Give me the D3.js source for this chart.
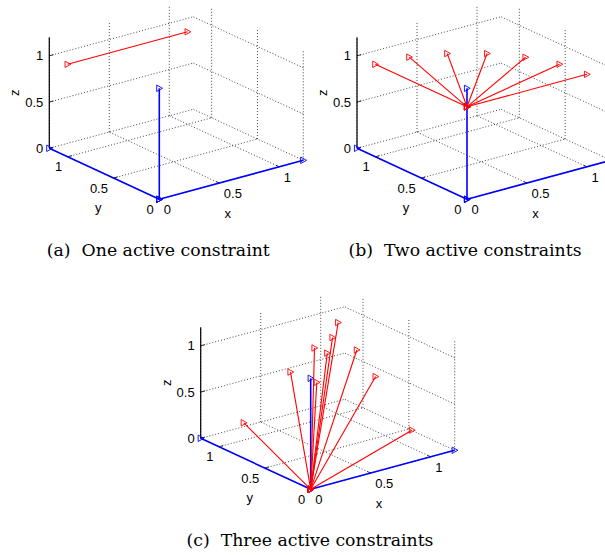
<!DOCTYPE html>
<html>
<head>
<meta charset="utf-8">
<script src="https://cdn.jsdelivr.net/npm/d3@7"></script>
<style>
  body { margin: 0; background: #fff; }
  svg { display: block; }
</style>
</head>
<body>
<div id="figure"></div>
<script>

// axis limits and ticks (same for x, y, z)
const axisLimit = 1.2;
const tickValues = [0, 0.5, 1];
const tickLabels = ["0", "0.5", "1"];
const axisNames = ["x", "y", "z"];

// blue basis arrows, drawn from the origin
const basisEnds = [[1.2, 0, 0], [0, 1.2, 0], [0, 0, 1.2]];

// (a) one red vector
const panelAStart = [0, 1, 1];
const panelAEnd = [1, 1, 1];

// (b) red fan, all starting at the same point
const panelBStart = [0, 0, 1];
const panelBEndX = [0, 0.26, 0.5, 0.71, 0.87, 0.97, 1];
const panelBEndY = [1, 0.97, 0.87, 0.71, 0.5, 0.26, 0];
const panelBEndZ = [1, 1, 1, 1, 1, 1, 1];

// (c) red vectors from the origin
const panelCStart = [0, 0, 0];
const panelCEndX = [0.13, 0.29, 0.49, 0.28, 0.52, 0.64, 0.84, 0.69, 0.77, 0.92];
const panelCEndY = [0.9, 0.6, 0.6, 0.3, 0.5, 0.6, 0.8, 0.4, 0.3, 0.1];
const panelCEndZ = [0.26, 0.89, 1.08, 0.92, 1.06, 1.14, 1.14, 1.08, 0.81, 0.27];

const captions = [
  "(a)\u00a0\u00a0One active constraint",
  "(b)\u00a0\u00a0Two active constraints",
  "(c)\u00a0\u00a0Three active constraints"
];

const colors = {
  red: "#ff0000",
  blue: "#0000ff",
  grid: "#333333",
  axis: "#000000",
  text: "#000000"
};

const width = 605;
const height = 555;

const svg = d3.select("#figure")
  .append("svg")
    .attr("width", width)
    .attr("height", height);

// projection of each data axis onto the screen (view az/el like matlab)
const xScale = d3.scaleLinear().domain([0, axisLimit]).range([[0, 0], [144, -39]]);
const yScale = d3.scaleLinear().domain([0, axisLimit]).range([[0, 0], [-110, -51]]);
const zScale = d3.scaleLinear().domain([0, axisLimit]).range([[0, 0], [0, -111]]);

function makeProject(origin) {
  return p => {
    const a = xScale(p[0]), b = yScale(p[1]), c = zScale(p[2]);
    return [origin[0] + a[0] + b[0] + c[0], origin[1] + a[1] + b[1] + c[1]];
  };
}

const markerPath = "M-2.6,-3.2L3.2,0L-2.6,3.2Z";

function drawPanel(origin, segments, caption, captionPos) {
  const project = makeProject(origin);
  const g = svg.append("g");
  const L = axisLimit;

  // grid lines on the floor and the two back walls
  const grid = [];
  tickValues.forEach(t => {
    grid.push([[t, 0, 0], [t, L, 0]]);
    grid.push([[0, t, 0], [L, t, 0]]);
    grid.push([[0, L, t], [L, L, t]]);
    grid.push([[L, 0, t], [L, L, t]]);
    grid.push([[t, L, 0], [t, L, L]]);
    grid.push([[L, t, 0], [L, t, L]]);
  });

  const line = d3.line().x(d => project(d)[0]).y(d => project(d)[1]);

  g.append("g")
    .selectAll("path")
    .data(grid)
    .join("path")
      .attr("d", line)
      .attr("fill", "none")
      .attr("stroke", colors.grid)
      .attr("stroke-width", 0.9)
      .attr("stroke-dasharray", "1,2");

  // z axis line with ticks
  g.append("path")
    .attr("d", line([[0, L, 0], [0, L, L]]))
    .attr("stroke", colors.axis)
    .attr("stroke-width", 1.2)
    .attr("fill", "none");

  const ticks = [];
  tickValues.forEach(t => {
    ticks.push([[0, L, t], [0.035, L, t]]);
    ticks.push([[t, 0, 0], [t, 0.035, 0]]);
    ticks.push([[0, t, 0], [0.035, t, 0]]);
  });
  g.append("g")
    .selectAll("path")
    .data(ticks)
    .join("path")
      .attr("d", line)
      .attr("stroke", colors.axis)
      .attr("stroke-width", 0.8);

  // tick labels
  const labels = g.append("g")
    .attr("font-family", "Liberation Sans, Arial, sans-serif")
    .attr("font-size", 13)
    .attr("fill", colors.text);

  tickValues.forEach((t, i) => {
    const px = project([t, 0, 0]);
    labels.append("text")
      .attr("x", px[0] + 4.5).attr("y", px[1] + 15)
      .attr("text-anchor", "start")
      .text(tickLabels[i]);
    const py = project([0, t, 0]);
    labels.append("text")
      .attr("x", py[0] - 5.5).attr("y", py[1] + 14.5)
      .attr("text-anchor", "end")
      .text(tickLabels[i]);
    const pz = project([0, L, t]);
    labels.append("text")
      .attr("x", pz[0] - 6).attr("y", pz[1] + 4.6)
      .attr("text-anchor", "end")
      .text(tickLabels[i]);
  });

  const xt = project([0.6, 0, 0]);
  labels.append("text")
    .attr("x", xt[0] - 3.6).attr("y", xt[1] + 38.5)
    .attr("text-anchor", "middle")
    .text(axisNames[0]);
  const yt = project([0, 0.6, 0]);
  labels.append("text")
    .attr("x", yt[0] - 6).attr("y", yt[1] + 38.5)
    .attr("text-anchor", "middle")
    .text(axisNames[1]);
  const zt = project([0, L, 0.6]);
  labels.append("text")
    .attr("transform", `translate(${zt[0] - 30},${zt[1]}) rotate(-90)`)
    .attr("text-anchor", "middle")
    .text(axisNames[2]);

  // vectors: a line plus '>' markers at both ends
  const vecs = g.append("g");
  segments.forEach(s => {
    vecs.append("path")
      .attr("d", line(s.points))
      .attr("fill", "none")
      .attr("stroke", s.color)
      .attr("stroke-width", s.width);
    s.points.forEach(p => {
      const q = project(p);
      vecs.append("path")
        .attr("d", markerPath)
        .attr("transform", `translate(${q[0]},${q[1]})`)
        .attr("fill", "none")
        .attr("stroke", s.color)
        .attr("stroke-width", 0.9);
    });
  });

  svg.append("text")
    .attr("x", captionPos[0])
    .attr("y", captionPos[1])
    .attr("text-anchor", "middle")
    .attr("font-family", "DejaVu Serif, serif")
    .attr("font-size", 17.3)
    .attr("fill", colors.text)
    .text(caption);
}

const blueSegments = basisEnds.map(e => ({ points: [[0, 0, 0], e], color: colors.blue, width: 1.6 }));

const segmentsA = blueSegments.concat([
  { points: [panelAStart, panelAEnd], color: colors.red, width: 1.1 }
]);

const segmentsB = blueSegments.concat(panelBEndX.map((x, i) => ({
  points: [panelBStart, [x, panelBEndY[i], panelBEndZ[i]]], color: colors.red, width: 1.1
})));

const segmentsC = blueSegments.concat(panelCEndX.map((x, i) => ({
  points: [panelCStart, [x, panelCEndY[i], panelCEndZ[i]]], color: colors.red, width: 1.1
})));

drawPanel([159.3, 199.3], segmentsA, captions[0], [158.3, 255.5]);
drawPanel([467, 199.3], segmentsB, captions[1], [465, 255.5]);
drawPanel([310.7, 489.3], segmentsC, captions[2], [310, 545.5]);

</script>
</body>
</html>
